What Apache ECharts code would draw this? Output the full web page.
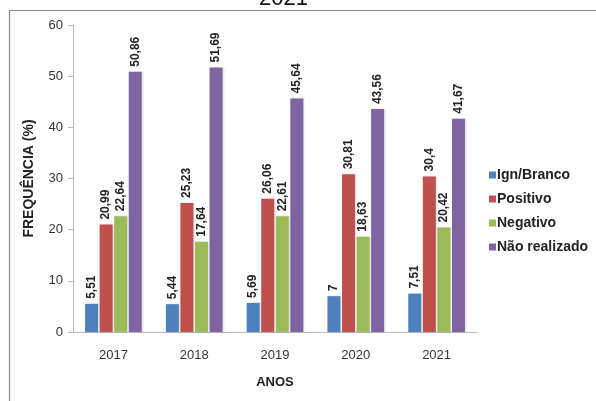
<!DOCTYPE html>
<html>
<head>
<meta charset="utf-8">
<script src="https://cdn.jsdelivr.net/npm/echarts@6/dist/echarts.min.js"></script>
<style>html,body{margin:0;padding:0;background:#fff;}#c{width:596px;height:401px;}</style>
</head>
<body>
<div id="c"></div>
<script>
const categories = ['2017', '2018', '2019', '2020', '2021'];
const seriesNames = ['Ign/Branco', 'Positivo', 'Negativo', 'Não realizado'];
const ignBranco = [5.51, 5.44, 5.69, 7, 7.51];
const positivo = [20.99, 25.23, 26.06, 30.81, 30.4];
const negativo = [22.64, 17.64, 22.61, 18.63, 20.42];
const naoRealizado = [50.86, 51.69, 45.64, 43.56, 41.67];
const yTicks = [0, 10, 20, 30, 40, 50, 60];

const colors = ['#4F81BD', '#C0504D', '#9BBB59', '#8064A2'];
const values = [ignBranco, positivo, negativo, naoRealizado];
const font = 'Liberation Sans, Arial, sans-serif';

const chart = echarts.init(document.getElementById('c'));
chart.setOption({
  animation: false,
  graphic: [
    { type: 'rect', left: 7, top: 8, shape: { width: 620, height: 420 }, style: { fill: 'none', stroke: '#8a8a8a', lineWidth: 1.2 }, silent: true },
    { type: 'text', left: 259, top: -12, style: { text: '2021', font: '22px ' + font, fill: '#111' }, silent: true }
  ],
  legend: {
    orient: 'vertical', left: 484, top: 163,
    itemWidth: 7, itemHeight: 7, itemGap: 10, icon: 'rect',
    textStyle: { fontFamily: font, fontSize: 14, fontWeight: 'bold', color: '#222', padding: [0, 0, 0, -4] },
    data: seriesNames
  },
  grid: { left: 73, right: 119, top: 25, bottom: 69 },
  xAxis: {
    type: 'category', data: categories,
    axisLine: { lineStyle: { color: '#bbbbbb' } },
    axisTick: { show: false },
    axisLabel: { fontFamily: font, fontSize: 13, color: '#333', margin: 17 },
    name: 'ANOS', nameLocation: 'middle', nameGap: 44,
    nameTextStyle: { fontFamily: font, fontSize: 13, fontWeight: 'bold', color: '#222' }
  },
  yAxis: {
    type: 'value', min: yTicks[0], max: yTicks[yTicks.length - 1], interval: 10,
    axisLine: { show: true, lineStyle: { color: '#bbbbbb' } },
    axisTick: { show: true, length: 5, lineStyle: { color: '#bbbbbb' } },
    splitLine: { show: false },
    axisLabel: { fontFamily: font, fontSize: 13, color: '#333', margin: 10 },
    name: 'FREQUÊNCIA (%)', nameLocation: 'middle', nameGap: 37,
    nameTextStyle: { fontFamily: font, fontSize: 14, fontWeight: 'bold', color: '#222' }
  },
  series: seriesNames.map((n, i) => ({
    name: n, type: 'bar', data: values[i],
    barWidth: 13, barGap: '12%',
    itemStyle: { color: colors[i], shadowColor: 'rgba(0,0,0,0.15)', shadowBlur: 2, shadowOffsetX: 1 },
    label: {
      show: true, position: 'top', rotate: 90, distance: 5, align: 'left', verticalAlign: 'middle',
      fontFamily: font, fontSize: 12, fontWeight: 'bold', color: '#222',
      formatter: p => String(p.value).replace('.', ',')
    }
  }))
});
</script>
</body>
</html>
